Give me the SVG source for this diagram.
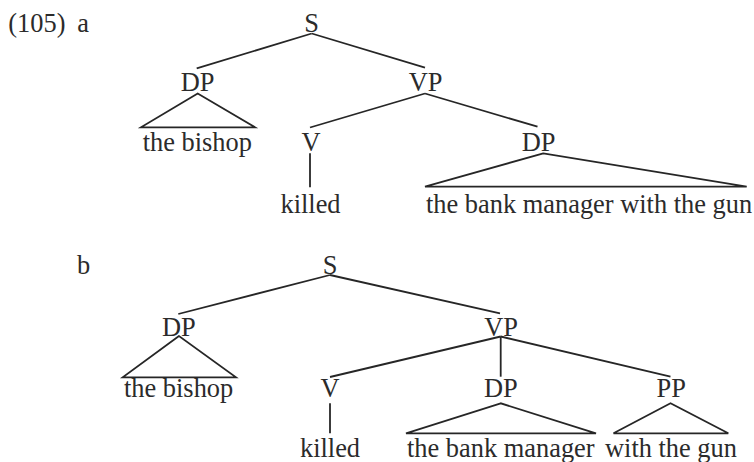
<svg xmlns="http://www.w3.org/2000/svg" width="754" height="462" viewBox="0 0 754 462">
<style>
text{font-family:"Liberation Serif","Times New Roman",serif;font-size:26.4px;fill:#2b2b2b}
.c{text-anchor:middle}
.e line,.e polygon{stroke:#262626;stroke-width:1.8;fill:none;stroke-linejoin:miter}
</style>
<rect width="754" height="462" fill="#ffffff"/>
<g id="labels">
<text x="8.3" y="31.5">(105)</text>
<text x="77.3" y="31.5">a</text>
<text x="77" y="273.5">b</text>
</g>
<g class="e" id="connectors">
<line x1="311.7" y1="33.5" x2="196.7" y2="68.3"/>
<line x1="311.7" y1="33.5" x2="425" y2="67.7"/>
<polygon points="197.7,93.5 141,127.3 255,127.3"/>
<line x1="425" y1="93.5" x2="310" y2="127.5"/>
<line x1="425" y1="93.5" x2="537.5" y2="126.7"/>
<line x1="310" y1="153.3" x2="310" y2="187.3"/>
<polygon points="543.3,153.3 425,186.7 746.7,186.7"/>
<line x1="330" y1="275" x2="178.3" y2="314"/>
<line x1="330" y1="275" x2="500" y2="313.3"/>
<polygon points="179,336 122.7,377.3 236,377.3"/>
<line x1="500.7" y1="336.5" x2="330" y2="377"/>
<line x1="500.7" y1="336.5" x2="500.7" y2="376.7"/>
<line x1="500.7" y1="336.5" x2="670.5" y2="376.7"/>
<line x1="330" y1="403.3" x2="330" y2="433.3"/>
<polygon points="500.7,403.3 406,433.3 596,433.3"/>
<polygon points="670.5,403.3 613.5,433.3 728.3,433.3"/>
</g>
<g id="a-S"><text class="c" x="311.5" y="31.5">S</text></g>
<g id="a-DP"><text class="c" x="197.5" y="90.5">DP</text></g>
<g id="a-VP"><text class="c" x="425.5" y="90.5">VP</text></g>
<g id="a-bishop"><text x="142.7" y="150.5">the bishop</text></g>
<g id="a-V"><text class="c" x="311" y="150.5">V</text></g>
<g id="a-DP2"><text class="c" x="538.7" y="150.5">DP</text></g>
<g id="a-killed"><text class="c" x="310.5" y="213">killed</text></g>
<g id="a-bankmanager"><text x="426" y="212.5">the bank manager with the gun</text></g>
<g id="b-S"><text class="c" x="330" y="273.5">S</text></g>
<g id="b-DP"><text class="c" x="178.8" y="335.5">DP</text></g>
<g id="b-VP"><text class="c" x="501" y="335.5">VP</text></g>
<g id="b-bishop"><text x="124" y="396.5">the bishop</text></g>
<g id="b-V"><text class="c" x="330" y="396.5">V</text></g>
<g id="b-DP2"><text class="c" x="500.8" y="396.5">DP</text></g>
<g id="b-PP"><text class="c" x="671.3" y="396.5">PP</text></g>
<g id="b-killed"><text class="c" x="330" y="456.5">killed</text></g>
<g id="b-bankmanager"><text x="407" y="456.5">the bank manager</text></g>
<g id="b-withgun"><text x="605" y="456.5">with the gun</text></g>
</svg>
